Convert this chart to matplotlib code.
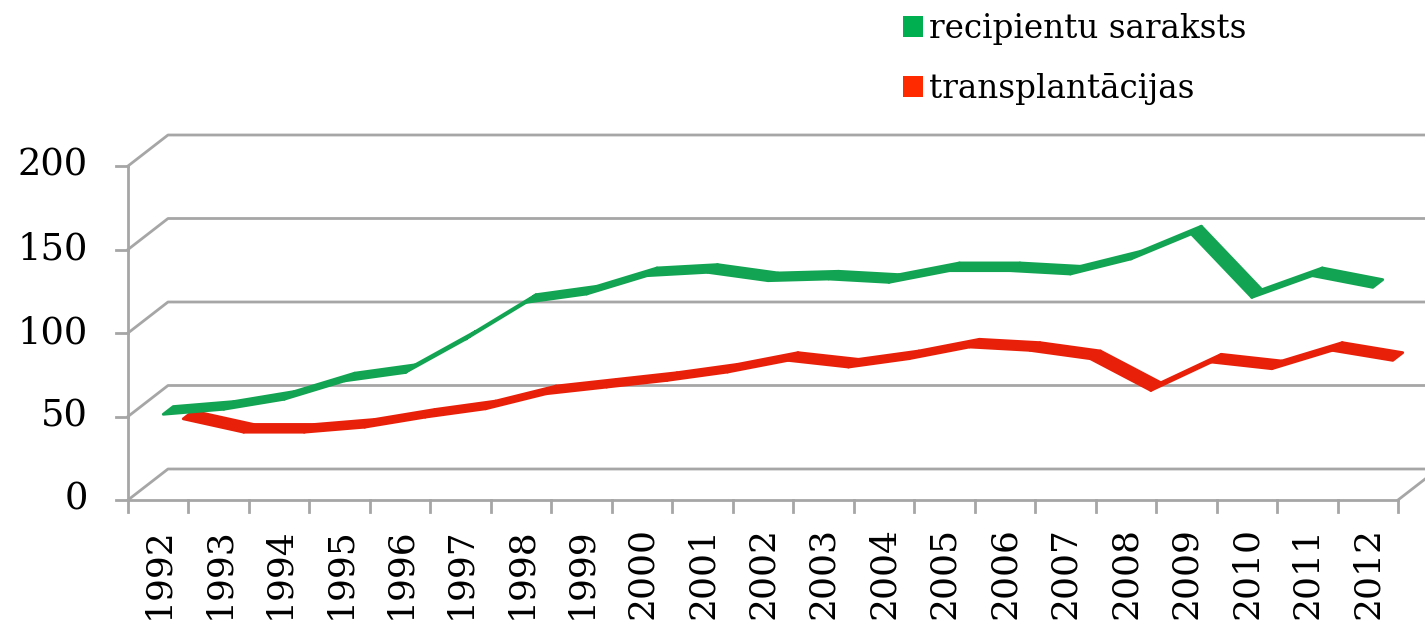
import matplotlib
matplotlib.use('Agg')
import matplotlib.pyplot as plt
from matplotlib.patches import Polygon, Patch

# data
years = ['1992', '1993', '1994', '1995', '1996', '1997', '1998', '1999', '2000', '2001', '2002',
         '2003', '2004', '2005', '2006', '2007', '2008', '2009', '2010', '2011', '2012']
recipienti = [49, 52, 58, 69, 74, 94, 116, 121, 132, 134, 129, 130, 128, 135, 135, 133, 142, 157, 119, 132, 125]
transplantacijas = [37, 29, 29, 32, 38, 43, 52, 56, 60, 65, 72, 68, 73, 80, 78, 73, 54, 71, 67, 78, 72]
y_ticks = [0, 50, 100, 150, 200]
series_names = ['recipientu saraksts', 'transplantācijas']

green_line = '#12a452'
green_key = '#00b050'
red_line = '#e8200a'
red_key = '#ff2a00'
grid_col = '#a6a6a6'

plt.rcParams['font.family'] = ['DejaVu Serif']

W, H = 1425, 627
fig = plt.figure(figsize=(W / 100, H / 100), dpi=100)
fig.set_facecolor('white')

# front plane of the fake 3d box, in figure pixels
left_px, right_px, bottom_px, top_px = 128, 1398, 500, 166
ax = fig.add_axes([left_px / W, (H - bottom_px) / H, (right_px - left_px) / W, (bottom_px - top_px) / H])
n = len(years)
ax.set_xlim(0, n)
ax.set_ylim(0, 200)
ax.axis('off')

px_x = (right_px - left_px) / n        # pixels per category
px_y = (bottom_px - top_px) / 200.0    # pixels per unit
DX = 40 / px_x                         # depth shift in data units
DY = 31 / px_y


def proj(x, v, d):
    return x + d * DX, v + d * DY


# gridlines: left wall diagonal + back wall
for v in y_ticks:
    x0, y0 = proj(0, v, 0)
    x1, y1 = proj(0, v, 1)
    x2, y2 = proj(n, v, 1)
    ax.plot([x0, x1, x2], [y0, y1, y2], color=grid_col, lw=2, clip_on=False, zorder=1)
# right edge of the floor
x0, y0 = proj(n, 0, 0)
x1, y1 = proj(n, 0, 1)
ax.plot([x0, x1], [y0, y1], color=grid_col, lw=2, clip_on=False, zorder=1)

# front axes
ax.plot([0, 0], [0, 200], color=grid_col, lw=2, clip_on=False, zorder=2)
ax.plot([0, n], [0, 0], color=grid_col, lw=2, clip_on=False, zorder=2)
for v in y_ticks:
    ax.plot([-12 / px_x, 0], [v, v], color=grid_col, lw=2, clip_on=False)
    ax.text(-40 / px_x, v, str(v), ha='right', va='center', fontsize=26.5, color='black')
for i in range(n + 1):
    ax.plot([i, i], [0, -12 / px_y], color=grid_col, lw=2, clip_on=False)
for i, yr in enumerate(years):
    ax.text(i + 0.5, -27 / px_y, yr, rotation=90, ha='center', va='top', fontsize=26, color='black')


def ribbon(values, d0, d1, color, z):
    for i in range(len(values) - 1):
        a = proj(i + 0.5, values[i], d0)
        b = proj(i + 1.5, values[i + 1], d0)
        c = proj(i + 1.5, values[i + 1], d1)
        e = proj(i + 0.5, values[i], d1)
        ax.add_patch(Polygon([a, b, c, e], closed=True, facecolor=color, edgecolor=color,
                             lw=2, joinstyle='round', clip_on=False, zorder=z))


# red series sits deeper than the green one
ribbon(transplantacijas, 0.625, 0.875, red_line, 3)
ribbon(recipienti, 0.125, 0.375, green_line, 4)

handles = [Patch(facecolor=green_key, edgecolor='none'), Patch(facecolor=red_key, edgecolor='none')]
fig.legend(handles, series_names, loc='upper left', bbox_to_anchor=(890 / W, 1 - 0 / H),
           frameon=False, fontsize=23.5, handlelength=0.6, handleheight=0.6,
           handletextpad=0.2, labelspacing=0.85, borderaxespad=0)

fig.savefig('out.png', dpi=100, facecolor='white')
